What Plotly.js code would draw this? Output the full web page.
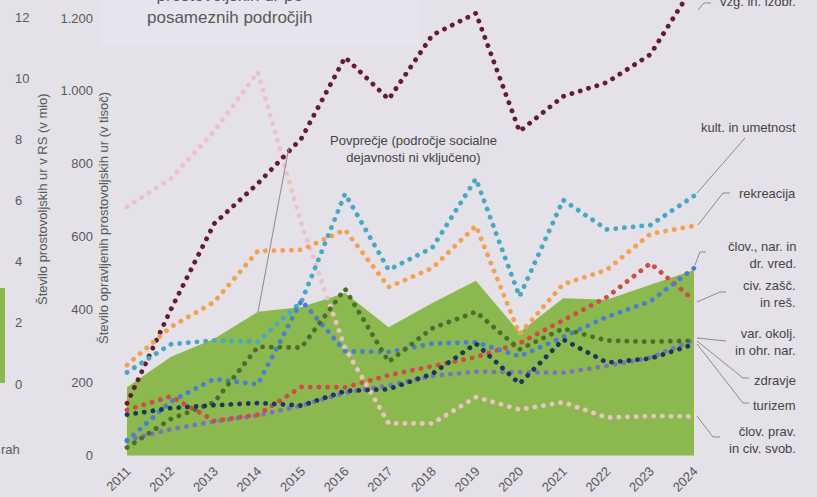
<!DOCTYPE html>
<html><head><meta charset="utf-8">
<script src="https://cdn.plot.ly/plotly-3.0.1.min.js"></script>
<style>
html,body{margin:0;padding:0;background:#e4e1e9;}
#chart{width:817px;height:497px;}
.js-line{stroke-linecap:round !important;}
</style></head><body><div id="chart"></div>
<script>
// ---- data ----
const years = [2011,2012,2013,2014,2015,2016,2017,2018,2019,2020,2021,2022,2023,2024];
const povprecje     = [187,270,320,394,407,446,352,418,479,338,431,427,468,509];
const vzgIzobr      = [143,399,636,746,870,1092,977,1153,1213,889,985,1023,1100,1290];
const kultUmet      = [228,305,316,312,422,718,509,570,759,436,701,620,632,712];
const rekreacija    = [248,352,421,561,564,619,462,514,630,333,470,509,608,630];
const clovNarDrVred = [40,148,210,195,425,286,284,307,311,272,325,380,423,514];
const civZasc       = [125,162,95,112,188,187,220,244,270,308,372,434,527,426];
const varOkolj      = [22,100,146,298,296,457,257,349,394,291,348,315,312,315];
const zdravje       = [112,130,138,144,137,177,182,224,307,197,318,255,266,305];
const turizem       = [42,72,93,110,137,172,192,218,230,230,227,246,268,318];
const clovPrav      = [682,759,889,1052,635,295,88,88,160,126,146,104,108,107];
const yTickVals  = [0,200,400,600,800,1000,1200];
const yTickText  = ['0','200','400','600','800','1.000','1.200'];
const secTicks   = [0,2,4,6,8,10,12];
const seriesNames = ['vzg. in. izobr.','kult. in umetnost','rekreacija','člov., nar. in<br>dr. vred.','civ. zašč.<br>in reš.','var. okolj.<br>in ohr. nar.','zdravje','turizem','člov. prav.<br>in civ. svob.'];
const avgLabel = 'Povprečje (področje socialne<br>dejavnosti ni vključeno)';
const titleText = 'prostovoljskih ur po<br>posameznih področjih';

// ---- geometry ----
const L=112, R=720, T=0, B=460;
const x2011=127, pxPerYear=43.615, y0=455.5, pxPerUnit=0.3646;
const X = px => (px-L)/(R-L);
const Y = py => 1-(py-T)/(B-T);

const series = [
  {y:clovPrav, c:'#eac3c4'},
  {y:vzgIzobr, c:'#651c2e'},
  {y:rekreacija, c:'#f5a04f'},
  {y:kultUmet, c:'#46a9c3'},
  {y:turizem, c:'#7873bf'},
  {y:civZasc, c:'#d24b42'},
  {y:clovNarDrVred, c:'#4a7fcf'},
  {y:varOkolj, c:'#4b6e2c'},
  {y:zdravje, c:'#1b375f'}
];

const traces = [{
  x: years, y: povprecje, type:'scatter', mode:'lines', fill:'tozeroy',
  fillcolor:'#8cb94f', line:{width:0, color:'#8cb94f'}, hoverinfo:'skip', showlegend:false
}];
series.forEach(s => traces.push({
  x: years, y: s.y, type:'scatter', mode:'lines',
  line:{color:s.c, width:4.8, dash:'0.1px,8.6px'}, showlegend:false, hoverinfo:'skip'
}));

const txtFont = {family:'Liberation Sans, Arial, sans-serif', size:13, color:'#444444'};
const grayFont = {family:'Liberation Sans, Arial, sans-serif', size:13, color:'#595959'};

const ann = [];
// title (cropped at the top, as in the reference)
ann.push({xref:'paper', yref:'paper', x:X(229), y:Y(6.5), text:titleText, showarrow:false,
  xanchor:'center', yanchor:'middle', font:{family:'Liberation Sans, Arial, sans-serif', size:17, color:'#595959'}});
// average label
ann.push({xref:'paper', yref:'paper', x:X(413), y:Y(148.5), text:avgLabel, showarrow:false,
  xanchor:'center', yanchor:'middle', font:txtFont});
// right labels
const labelY = [2, 127, 193, 255, 293.5, 341.5, 380, 405, 440];
seriesNames.forEach((t,i) => ann.push({xref:'paper', yref:'paper', x:X(798), y:Y(labelY[i]), text:t,
  showarrow:false, xanchor:'right', yanchor:'middle', align:'right', font:txtFont}));
// secondary (cropped neighbour) axis
secTicks.forEach(v => ann.push({xref:'paper', yref:'paper', x:X(13), y:Y(384 - v*30.55), text:String(v),
  showarrow:false, xanchor:'left', yanchor:'middle', font:grayFont}));
ann.push({xref:'paper', yref:'paper', x:X(42), y:Y(199), text:'Število prostovoljskih ur v RS (v mio)',
  textangle:-90, showarrow:false, xanchor:'center', yanchor:'middle', font:grayFont});
ann.push({xref:'paper', yref:'paper', x:X(104), y:Y(218), text:'Število opravljenih prostovoljskih ur (v tisoč)',
  textangle:-90, showarrow:false, xanchor:'center', yanchor:'middle', font:grayFont});
ann.push({xref:'paper', yref:'paper', x:X(-1), y:Y(449), text:'rah',
  showarrow:false, xanchor:'left', yanchor:'middle', font:grayFont});

const lc = {color:'#8a8a8a', width:1};
const P = pts => 'M' + pts.map(p => X(p[0]).toFixed(4)+','+Y(p[1]).toFixed(4)).join(' L');
const shapes = [
  {type:'rect', xref:'paper', yref:'paper', x0:X(100), x1:X(420), y0:Y(46), y1:Y(-5), fillcolor:'#e6e4ec', line:{width:0}, layer:'below'},
  {type:'rect', xref:'paper', yref:'paper', x0:X(-2), x1:X(5), y0:Y(383), y1:Y(288), fillcolor:'#8cb94f', line:{width:0}},
  {type:'path', xref:'paper', yref:'paper', path:P([[289,147],[258,312]]), line:lc},
  {type:'path', xref:'paper', yref:'paper', path:P([[698,10],[704,3],[711,3]]), line:lc},
  {type:'path', xref:'paper', yref:'paper', path:P([[697,193],[745,138]]), line:lc},
  {type:'path', xref:'paper', yref:'paper', path:P([[698,225],[723,193],[730,193]]), line:lc},
  {type:'path', xref:'paper', yref:'paper', path:P([[695,265],[700,252],[706,252]]), line:lc},
  {type:'path', xref:'paper', yref:'paper', path:P([[697,302],[720,292],[726,292]]), line:lc},
  {type:'path', xref:'paper', yref:'paper', path:P([[697,338],[726,341]]), line:lc},
  {type:'path', xref:'paper', yref:'paper', path:P([[697,341],[743,378],[749,378]]), line:lc},
  {type:'path', xref:'paper', yref:'paper', path:P([[697,344],[743,403],[749,403]]), line:lc},
  {type:'path', xref:'paper', yref:'paper', path:P([[697,416],[713,437],[720,437]]), line:lc}
];

const layout = {
  width:817, height:497,
  margin:{l:L, r:817-R, t:T, b:497-B},
  paper_bgcolor:'#e4e1e9', plot_bgcolor:'#e4e1e9',
  showlegend:false,
  xaxis:{range:[2011-(x2011-L)/pxPerYear, 2011+(R-x2011)/pxPerYear], tickvals:years, ticktext:years.map(String),
    tickangle:-45, tickfont:grayFont, showgrid:false, zeroline:false, showline:false, ticks:'', fixedrange:true},
  yaxis:{range:[(y0-B)/pxPerUnit, (y0-T)/pxPerUnit], tickvals:yTickVals, ticktext:yTickText,
    tickfont:grayFont, showgrid:false, zeroline:false, showline:false, ticks:'', ticklabelstandoff:18, fixedrange:true},
  annotations:ann, shapes:shapes
};
Plotly.newPlot('chart', traces, layout, {displayModeBar:false, staticPlot:true});
</script></body></html>
